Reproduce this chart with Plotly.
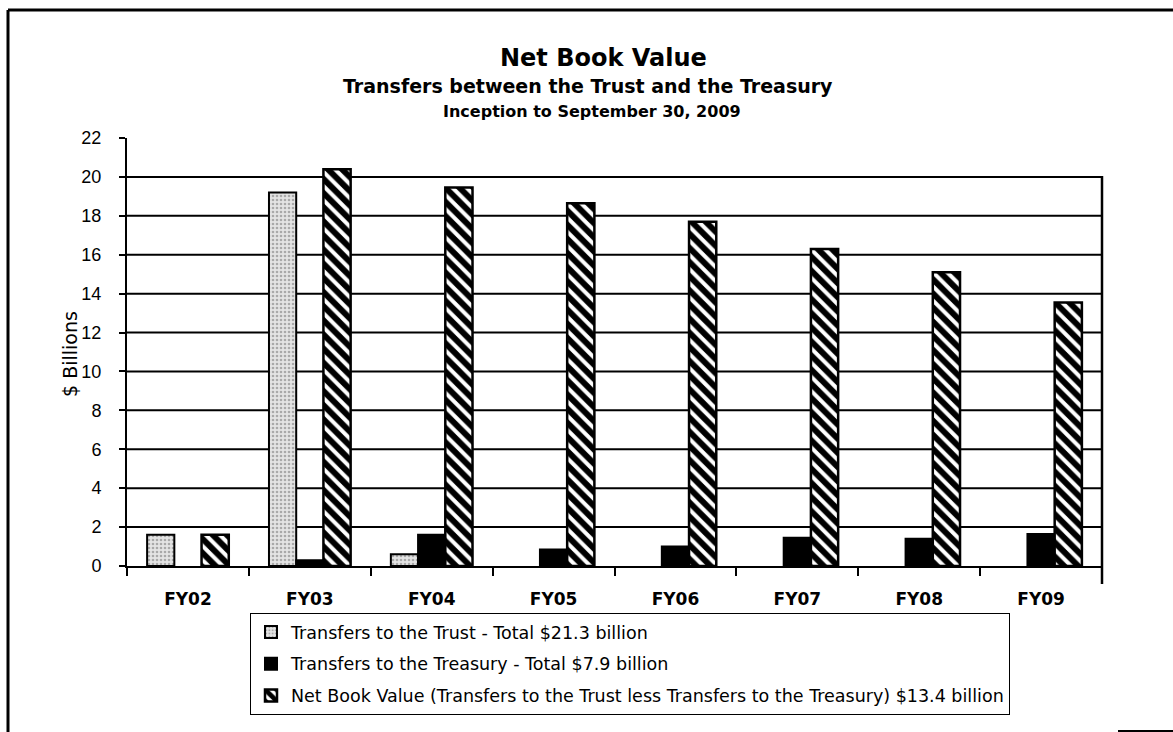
import plotly.graph_objects as go

categories = ["FY02", "FY03", "FY04", "FY05", "FY06", "FY07", "FY08", "FY09"]
trust_values = [1.6, 19.2, 0.6, None, None, None, None, None]
treasury_values = [None, 0.3, 1.6, 0.85, 1.0, 1.45, 1.4, 1.65]
nbv_values = [1.6, 20.4, 19.45, 18.65, 17.7, 16.3, 15.1, 13.55]
series_names = [
    "Transfers to the Trust - Total $21.3 billion",
    "Transfers to the Treasury - Total $7.9 billion",
    "Net Book Value (Transfers to the Trust less Transfers to the Treasury) $13.4 billion",
]
y_ticks = list(range(0, 23, 2))
grid_values = list(range(2, 21, 2))

W, H = 1173, 732
L, R, T, B = 127, 1102, 138, 566  # plot-area pixel bounds
PW, PH = R - L, B - T

def px(x):
    return (x - L) / PW

def py(y):
    return (B - y) / PH

fig = go.Figure()
fig.add_trace(go.Bar(
    x=categories, y=trust_values, name=series_names[0], legendgroup="a",
    marker=dict(color="#d9d9d9", line=dict(color="black", width=2),
                pattern=dict(shape=".", fgcolor="#6e6e6e", bgcolor="#e4e4e4", size=4, solidity=0.35)),
))
fig.add_trace(go.Bar(
    x=categories, y=treasury_values, name=series_names[1], legendgroup="b",
    marker=dict(color="black", line=dict(color="black", width=2)),
))
fig.add_trace(go.Bar(
    x=categories, y=nbv_values, name=series_names[2], legendgroup="c",
    marker=dict(color="white", line=dict(color="black", width=2.5),
                pattern=dict(shape="\\", fgcolor="#000000", fgopacity=1, bgcolor="white",
                             size=10, solidity=0.6)),
))

shapes = []
for g in grid_values:
    shapes.append(dict(type="line", xref="paper", yref="y", x0=0, x1=1, y0=g, y1=g,
                       line=dict(color="black", width=2), layer="below"))
# right frame line of plot area
shapes.append(dict(type="line", xref="paper", yref="paper", x0=1, x1=1, y0=py(584), y1=py(176),
                   line=dict(color="black", width=2.5)))
# outer frame (left and top)
shapes.append(dict(type="line", xref="paper", yref="paper", x0=px(8), x1=px(8), y0=py(732), y1=py(10),
                   line=dict(color="black", width=3)))
shapes.append(dict(type="line", xref="paper", yref="paper", x0=px(8), x1=px(1180), y0=py(10), y1=py(10),
                   line=dict(color="black", width=3)))
shapes.append(dict(type="line", xref="paper", yref="paper", x0=px(1118), x1=px(1180), y0=py(731), y1=py(731),
                   line=dict(color="black", width=2)))

title_font = "DejaVu Sans"
annotations = [
    dict(text="<b>Net Book Value</b>", x=px(603), y=py(58), xref="paper", yref="paper",
         showarrow=False, xanchor="center", yanchor="middle",
         font=dict(family=title_font, size=24, color="black")),
    dict(text="<b>Transfers between the Trust and the Treasury</b>", x=px(588), y=py(86), xref="paper", yref="paper",
         showarrow=False, xanchor="center", yanchor="middle",
         font=dict(family=title_font, size=19, color="black")),
    dict(text="<b>Inception to September 30, 2009</b>", x=px(592), y=py(112), xref="paper", yref="paper",
         showarrow=False, xanchor="center", yanchor="middle",
         font=dict(family=title_font, size=16, color="black")),
    dict(text="$ Billions", x=px(70), y=py(354), xref="paper", yref="paper", textangle=-90,
         showarrow=False, xanchor="center", yanchor="middle",
         font=dict(family="DejaVu Sans", size=19, color="black")),
]

fig.update_layout(
    width=W, height=H,
    margin=dict(l=L, r=W - R, t=T, b=H - B, pad=0),
    paper_bgcolor="white", plot_bgcolor="white",
    barmode="group", bargap=0.33, bargroupgap=0,
    shapes=shapes, annotations=annotations,
    font=dict(family="Liberation Sans", color="black"),
    legend=dict(
        x=px(250), y=py(613), xanchor="left", yanchor="top",
        bordercolor="black", borderwidth=1, bgcolor="white",
        font=dict(family="DejaVu Sans", size=17.5, color="black"),
        tracegroupgap=6, itemwidth=30, traceorder="grouped",
    ),
    showlegend=True,
)
fig.update_xaxes(
    type="category", showline=True, linecolor="black", linewidth=2,
    ticks="outside", tickson="boundaries", ticklen=8, tickcolor="black", tickwidth=1.5,
    ticklabelstandoff=17, showgrid=False,
    tickfont=dict(family="DejaVu Sans", size=17, color="black", weight="bold"),
)
fig.update_yaxes(
    range=[0, 22], tickvals=y_ticks, showline=True, linecolor="black", linewidth=2,
    ticks="outside", ticklen=6, tickcolor="black", tickwidth=1.5,
    ticklabelstandoff=14, showgrid=False, zeroline=False,
    tickfont=dict(family="Liberation Sans", size=18, color="black"),
)

fig.write_html("out.html", config={"displayModeBar": False},
               post_script="document.body.style.margin='0px';")
